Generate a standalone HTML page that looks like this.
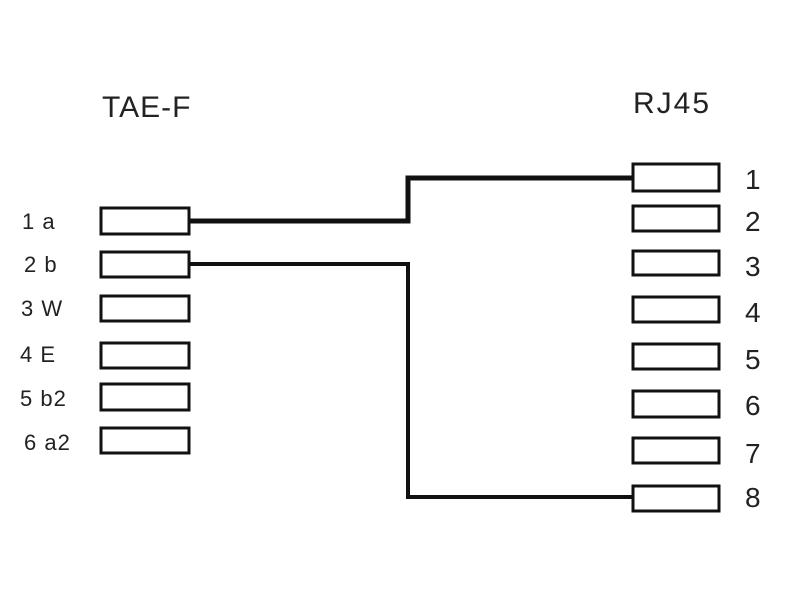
<!DOCTYPE html>
<html><head><style>body{margin:0;background:#fff}</style></head><body>
<svg width="800" height="600" xmlns="http://www.w3.org/2000/svg" font-family="Liberation Sans, sans-serif" fill="#222">
<text x="102" y="117" font-size="30" letter-spacing="1">TAE-F</text>
<text x="633" y="113" font-size="30" letter-spacing="2">RJ45</text>
<g fill="none" stroke="#111" stroke-width="3">
<rect x="101" y="208" width="88" height="26"/>
<rect x="101" y="252" width="88" height="25"/>
<rect x="101" y="296" width="88" height="25"/>
<rect x="101" y="343" width="88" height="25"/>
<rect x="101" y="384" width="88" height="26"/>
<rect x="101" y="428" width="88" height="25"/>
<rect x="633" y="164" width="86" height="27"/>
<rect x="633" y="206" width="86" height="25"/>
<rect x="633" y="251" width="86" height="24"/>
<rect x="633" y="297" width="86" height="25"/>
<rect x="633" y="344" width="86" height="25"/>
<rect x="633" y="391" width="86" height="26"/>
<rect x="633" y="438" width="86" height="25"/>
<rect x="633" y="486" width="86" height="25"/>
<polyline points="190,221 408,221 408,178 632,178" stroke-width="5"/>
<polyline points="190,264 408,264 408,497 632,497" stroke-width="4"/>
</g>
<g font-size="22" letter-spacing="1">
<text x="22" y="229">1 a</text>
<text x="24" y="272">2 b</text>
<text x="21" y="316">3 W</text>
<text x="20" y="362">4 E</text>
<text x="20" y="406">5 b2</text>
<text x="24" y="450">6 a2</text>
</g>
<g font-size="28">
<text x="745" y="189">1</text>
<text x="745" y="231">2</text>
<text x="745" y="276">3</text>
<text x="745" y="322">4</text>
<text x="745" y="369">5</text>
<text x="745" y="415">6</text>
<text x="745" y="463">7</text>
<text x="745" y="507">8</text>
</g>
</svg>
</body></html>
